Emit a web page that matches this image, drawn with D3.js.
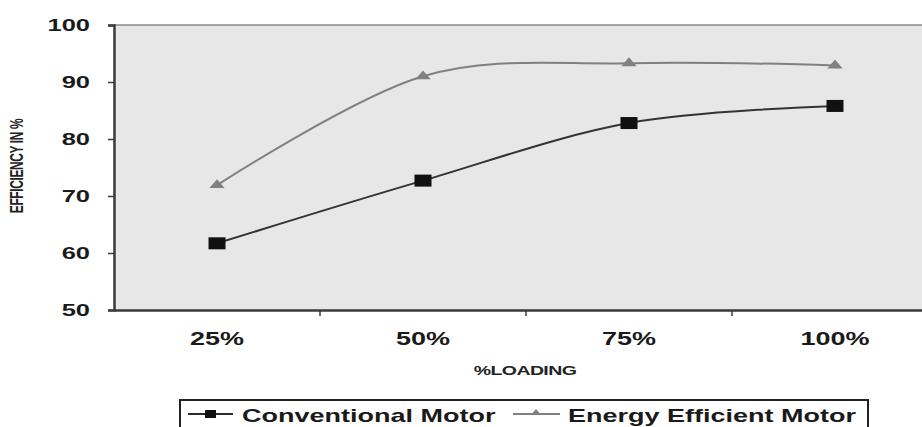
<!DOCTYPE html>
<html>
<head>
<meta charset="utf-8">
<script src="https://cdn.jsdelivr.net/npm/d3@7"></script>
<style>
  body { margin: 0; background: #fff; }
  svg { display: block; font-family: "Liberation Sans", Arial, sans-serif; }
</style>
</head>
<body>
<div id="chart"></div>
<script>
// data
var loading = ["25%", "50%", "75%", "100%"];
var conventional = [61.7, 72.7, 82.8, 85.8];
var energyEfficient = [71.9, 91.0, 93.3, 92.9];
var yTicks = [50, 60, 70, 80, 90, 100];

var width = 922, height = 427;
var margin = {top: 25, left: 114, bottom: 117};
var plotH = height - margin.top - margin.bottom;
var sx = 1.5; // the picture's text is stretched sideways

var svg = d3.select("#chart").append("svg")
  .attr("width", width)
  .attr("height", height);

// scales
var x = d3.scaleBand().domain(loading).range([margin.left, margin.left + 4 * 206]);
var y = d3.scaleLinear().domain([50, 100]).range([margin.top + plotH, margin.top]);

// plot background
svg.append("rect")
  .attr("x", margin.left)
  .attr("y", margin.top)
  .attr("width", x.range()[1] - margin.left)
  .attr("height", plotH)
  .attr("fill", "#e7e7e7");

svg.append("line")
  .attr("x1", margin.left).attr("x2", width)
  .attr("y1", y(100)).attr("y2", y(100))
  .attr("stroke", "#8a8a8a").attr("stroke-width", 1.5);

// y axis
var yAxis = svg.append("g")
  .attr("transform", "translate(" + margin.left + ",0)")
  .call(d3.axisLeft(y).tickValues(yTicks).tickSize(6));
yAxis.select(".domain").attr("stroke", "#3a3a3a").attr("stroke-width", 2.5);
yAxis.selectAll(".tick line").attr("stroke", "#3a3a3a").attr("stroke-width", 1.5);
yAxis.selectAll(".tick text")
  .attr("x", null)
  .attr("transform", "translate(-24,0) scale(" + sx + ",1)")
  .attr("font-size", 17).attr("font-weight", "bold").attr("fill", "#1a1a1a")
  .attr("font-family", "Liberation Sans, Arial, sans-serif");

// x axis
var xAxis = svg.append("g")
  .attr("transform", "translate(0," + y(50) + ")")
  .call(d3.axisBottom(x).tickSize(0).tickPadding(22));
xAxis.select(".domain").attr("stroke", "#3a3a3a").attr("stroke-width", 2.5);
xAxis.selectAll(".tick text")
  .attr("transform", "scale(" + sx + ",1)")
  .attr("font-size", 18).attr("font-weight", "bold").attr("fill", "#1a1a1a")
  .attr("font-family", "Liberation Sans, Arial, sans-serif");

// category boundary ticks
xAxis.selectAll(".sep")
  .data(loading.slice(0, 3))
  .enter().append("line")
  .attr("x1", function(d) { return x(d) + x.bandwidth(); })
  .attr("x2", function(d) { return x(d) + x.bandwidth(); })
  .attr("y1", 0).attr("y2", 6)
  .attr("stroke", "#3a3a3a").attr("stroke-width", 1.5);

// axis titles
svg.append("text")
  .attr("transform", "translate(525,375) scale(" + sx + ",1)")
  .attr("text-anchor", "middle")
  .attr("font-size", 13).attr("font-weight", "bold")
  .attr("letter-spacing", -0.4)
  .attr("fill", "#222")
  .text("%LOADING");

svg.append("text")
  .attr("transform", "translate(23,166) scale(" + sx + ",1) rotate(-90)")
  .attr("text-anchor", "middle")
  .attr("font-size", 12).attr("font-weight", "bold")
  .attr("letter-spacing", -0.4)
  .attr("fill", "#222")
  .text("EFFICIENCY IN %");

// lines
var line = d3.line()
  .x(function(d, i) { return x(loading[i]) + x.bandwidth() / 2; })
  .y(function(d) { return y(d); })
  .curve(d3.curveCatmullRom.alpha(0));

svg.append("path")
  .datum(energyEfficient)
  .attr("d", line)
  .attr("fill", "none")
  .attr("stroke", "#808080")
  .attr("stroke-width", 2);

svg.append("path")
  .datum(conventional)
  .attr("d", line)
  .attr("fill", "none")
  .attr("stroke", "#333")
  .attr("stroke-width", 2);

// markers
var tri = d3.symbol().type(d3.symbolTriangle).size(45);
svg.selectAll(".tri")
  .data(energyEfficient)
  .enter().append("path")
  .attr("d", tri)
  .attr("transform", function(d, i) {
    return "translate(" + (x(loading[i]) + x.bandwidth() / 2) + "," + y(d) + ") scale(" + sx + ",1)";
  })
  .attr("fill", "#808080");

svg.selectAll(".sq")
  .data(conventional)
  .enter().append("rect")
  .attr("x", function(d, i) { return x(loading[i]) + x.bandwidth() / 2 - 8.5; })
  .attr("y", function(d) { return y(d) - 6; })
  .attr("width", 17).attr("height", 12)
  .attr("fill", "#111");

// legend
var leg = svg.append("g");
leg.append("rect")
  .attr("x", 180).attr("y", 400)
  .attr("width", 688).attr("height", 40)
  .attr("fill", "#fff").attr("stroke", "#222").attr("stroke-width", 2);

leg.append("line").attr("x1", 188).attr("x2", 233).attr("y1", 414).attr("y2", 414)
  .attr("stroke", "#2a2a2a").attr("stroke-width", 2);
leg.append("rect").attr("x", 205).attr("y", 410).attr("width", 11).attr("height", 8)
  .attr("fill", "#111");
leg.append("text").attr("transform", "translate(242,422) scale(" + sx + ",1)")
  .attr("font-size", 18).attr("font-weight", "bold").attr("fill", "#1a1a1a")
  .text("Conventional Motor");

leg.append("line").attr("x1", 513).attr("x2", 560).attr("y1", 414).attr("y2", 414)
  .attr("stroke", "#808080").attr("stroke-width", 2);
leg.append("path").attr("d", d3.symbol().type(d3.symbolTriangle).size(20))
  .attr("transform", "translate(536,413) scale(" + sx + ",1)")
  .attr("fill", "#808080");
leg.append("text").attr("transform", "translate(568,422) scale(" + sx + ",1)")
  .attr("font-size", 18).attr("font-weight", "bold").attr("fill", "#1a1a1a")
  .text("Energy Efficient Motor");
</script>
</body>
</html>
